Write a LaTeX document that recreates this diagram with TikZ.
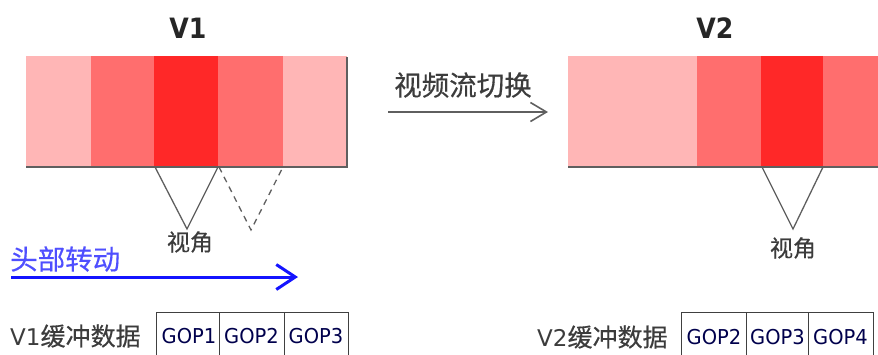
\documentclass[tikz,border=0pt]{standalone}
\usepackage{fontspec}
\setmainfont{DejaVu Sans}
\newfontfamily\cjk{Noto Sans CJK SC}
\usetikzlibrary{arrows.meta}
\definecolor{lightpink}{RGB}{255,182,182}
\definecolor{midred}{RGB}{255,110,110}
\definecolor{hotred}{RGB}{255,40,40}
\definecolor{edgegray}{RGB}{95,95,95}
\definecolor{txtgray}{RGB}{60,60,60}
\definecolor{headblue}{RGB}{20,20,255}
\begin{document}
\begin{tikzpicture}[x=1pt,y=-1pt,
  title/.style={font=\fontsize{28}{28}\selectfont\bfseries\addfontfeatures{FakeStretch=0.9}, text=black!85, inner sep=0pt},
  cjklabel/.style={font=\cjk\fontsize{#1}{#1}\selectfont\addfontfeatures{FakeBold=0.4}, text=txtgray, inner sep=0pt},
  fov/.style={draw=edgegray, line width=1.3pt, line join=miter},
  gop/.style={draw=black!75, line width=1.2pt, minimum height=50pt, inner sep=0pt, anchor=north west},
  goptxt/.style={font=\fontsize{20.5}{20.5}\selectfont\addfontfeatures{FakeStretch=0.95}, text=black!70!blue, inner sep=0pt}
]
\useasboundingbox (0,0) rectangle (878,354);
\clip (0,0) rectangle (878,354);

% ---------- V1 bar ----------
\node[title] (v1) at (188,28) {V1};
\fill[lightpink] (26,56) rectangle (91,167);
\fill[midred] (91,56) rectangle (154,167);
\fill[hotred] (154,56) rectangle (218,167);
\fill[midred] (218,56) rectangle (283,167);
\fill[lightpink] (283,56) rectangle (347,167);
\draw[edgegray, line width=2pt] (26,167) -- (347,167) -- (347,57);

% ---------- V2 bar ----------
\node[title] (v2) at (715,28) {V2};
\fill[lightpink] (568,56) rectangle (697,167);
\fill[midred] (697,56) rectangle (761,167);
\fill[hotred] (761,56) rectangle (823,167);
\fill[midred] (823,56) rectangle (880,167);
\draw[edgegray, line width=2pt] (568,167) -- (880,167);

% ---------- switch arrow ----------
\node[cjklabel=27.5] (sw) at (463,85) {视频流切换};
\coordinate (swA) at (388,112);
\coordinate (swB) at (548,112);
\draw[edgegray, line width=1.6pt, -{Straight Barb[length=16pt,width=19pt,line width=1.6pt]}] (swA) -- (swB);

% ---------- field of view V1 ----------
\coordinate (f1a) at (155,167);
\coordinate (f1b) at (187,229);
\coordinate (f1c) at (218,167);
\draw[fov] (f1a) -- (f1b) -- (f1c);
\coordinate (f2a) at (219,167);
\coordinate (f2b) at (251,230);
\coordinate (f2c) at (283,167);
\draw[fov, dash pattern=on 6pt off 5pt] (f2a) -- (f2b) -- (f2c);
\node[cjklabel=23] (fov1) at (190,242) {视角};

% ---------- field of view V2 ----------
\coordinate (g1a) at (762,167);
\coordinate (g1b) at (793,229);
\coordinate (g1c) at (823,167);
\draw[fov] (g1a) -- (g1b) -- (g1c);
\node[cjklabel=23] (fov2) at (793,248) {视角};

% ---------- head rotation ----------
\node[cjklabel=27.5, text=headblue!75, anchor=west] (head) at (10,259) {头部转动};
\coordinate (hA) at (11,277);
\coordinate (hB) at (298,277);
\draw[headblue, line width=3pt, -{Straight Barb[length=19pt,width=25pt,line width=3pt]}] (hA) -- (hB);

% ---------- buffers ----------
\node[anchor=west, inner sep=0pt, text=txtgray] (buf1) at (10,336)
  {\fontsize{23}{23}\selectfont V1{\cjk\fontsize{25}{25}\selectfont\addfontfeatures{FakeBold=0.4}缓冲数据}};
\node[gop, minimum width=63pt] (b11) at (156,312) {};
\node[gop, minimum width=65pt] (b12) at (219,312) {};
\node[gop, minimum width=64pt] (b13) at (284,312) {};
\node[goptxt] (t11) at (189,336) {GOP1};
\node[goptxt] (t12) at (251.5,336) {GOP2};
\node[goptxt] (t13) at (316,336) {GOP3};

\node[anchor=west, inner sep=0pt, text=txtgray] (buf2) at (537,337)
  {\fontsize{23}{23}\selectfont V2{\cjk\fontsize{25}{25}\selectfont\addfontfeatures{FakeBold=0.4}缓冲数据}};
\node[gop, minimum width=65pt] (b21) at (681,312) {};
\node[gop, minimum width=62pt] (b22) at (746,312) {};
\node[gop, minimum width=65pt] (b23) at (808,312) {};
\node[goptxt] (t21) at (714,337) {GOP2};
\node[goptxt] (t22) at (777.5,337) {GOP3};
\node[goptxt] (t23) at (840.5,337) {GOP4};
\end{tikzpicture}
\end{document}
